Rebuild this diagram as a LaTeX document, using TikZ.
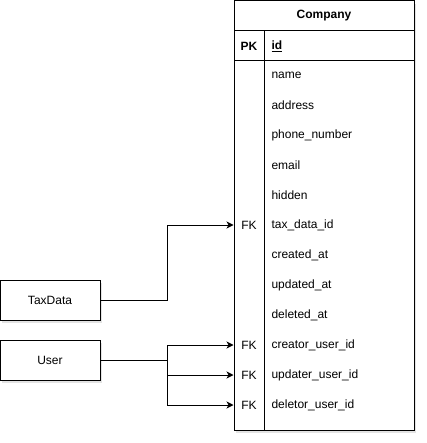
\documentclass[tikz,border=0pt]{standalone}
\usepackage{fontspec}
\setmainfont{Liberation Sans}
\usetikzlibrary{arrows.meta,shadows}
\begin{document}
\begin{tikzpicture}[x=1pt,y=-1pt,line width=1pt,
  every node/.style={font=\fontsize{12}{14}\selectfont},
  box/.style={draw,fill=white,minimum width=100pt,minimum height=40pt,inner sep=0pt,
    drop shadow={shadow xshift=2pt,shadow yshift=-3pt,opacity=0.22}},
  field/.style={anchor=west,inner sep=0pt},
  key/.style={anchor=center,inner sep=0pt},
  link/.style={-{Stealth[length=7pt,width=7pt,inset=2pt]},rounded corners=0pt}]
\useasboundingbox (0,0) rectangle (426,443);
% table
\node[draw,fill=white,minimum width=180pt,minimum height=429pt,inner sep=0pt,
  drop shadow={shadow xshift=2pt,shadow yshift=-3pt,opacity=0.22}] (table) at (324,215.5) {};
\draw (234,31) -- (414,31);
\draw (234,61) -- (414,61);
\draw (264,31) -- (264,430);
\node[key,font=\fontsize{12}{14}\selectfont\bfseries] (title) at (324,16) {Company};
\node[key,font=\fontsize{12}{14}\selectfont\bfseries] (pk) at (249,46) {PK};
\node[field,font=\fontsize{12}{14}\selectfont\bfseries] (id) at (271,46) {\underline{id}};
\node[field] (f1) at (271,75) {name};
\node[field] (f2) at (271,105) {address};
\node[field] (f3) at (271,135) {phone\_number};
\node[field] (f4) at (271,165) {email};
\node[field] (f5) at (271,195) {hidden};
\node[field] (f6) at (271,225) {tax\_data\_id};
\node[field] (f7) at (271,255) {created\_at};
\node[field] (f8) at (271,285) {updated\_at};
\node[field] (f9) at (271,315) {deleted\_at};
\node[field] (f10) at (271,345) {creator\_user\_id};
\node[field] (f11) at (271,375) {updater\_user\_id};
\node[field] (f12) at (271,405) {deletor\_user\_id};
\node[key] (fk1) at (249,225) {FK};
\node[key] (fk2) at (249,345) {FK};
\node[key] (fk3) at (249,375) {FK};
\node[key] (fk4) at (249,405) {FK};
% entities
\node[box] (tax) at (50,300) {TaxData};
\node[box] (user) at (50,360) {User};
% connectors
\draw[link] (tax.east) -- (167,300) |- (table.west |- fk1);
\draw[link] (user.east) -- (167,360) |- (table.west |- fk2);
\draw[link] (user.east) -- (167,360) |- (table.west |- fk3);
\draw[link] (user.east) -- (167,360) |- (table.west |- fk4);
\end{tikzpicture}
\end{document}
